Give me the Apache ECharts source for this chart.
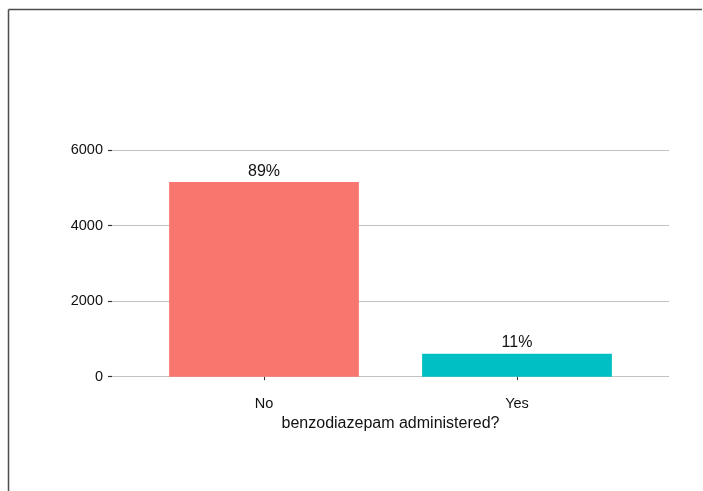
<!DOCTYPE html>
<html>
<head>
<meta charset="utf-8">
<script src="https://cdn.jsdelivr.net/npm/echarts@6/dist/echarts.min.js"></script>
<style>
html,body{margin:0;padding:0;background:#fff;}
#chart{width:703px;height:491px;}
</style>
</head>
<body>
<div id="chart"></div>
<script>
var categories = ['No', 'Yes'];
var counts = [5150, 610];
var pctLabels = ['89%', '11%'];
var barColors = ['#F8766D', '#00BFC4'];
var yTicks = [0, 2000, 4000, 6000];
var xTitle = 'benzodiazepam administered?';

var FONT = '"Liberation Sans", Arial, sans-serif';
var chart = echarts.init(document.getElementById('chart'), null, {renderer: 'canvas'});

var option = {
  animation: false,
  backgroundColor: '#ffffff',
  textStyle: {fontFamily: FONT},
  graphic: [
    {type: 'line', shape: {x1: 8.5, y1: 9.5, x2: 702, y2: 9.5}, style: {stroke: '#4d4d4d', lineWidth: 1.5}},
    {type: 'line', shape: {x1: 8.5, y1: 9.5, x2: 8.5, y2: 491}, style: {stroke: '#4d4d4d', lineWidth: 1.5}}
  ],
  grid: [
    {left: 112, right: 34, top: 150, bottom: 114.3},
    {left: 137.5, right: 59.5, top: 150, bottom: 114.3}
  ],
  xAxis: [
    {gridIndex: 0, type: 'category', data: categories, show: false},
    {
      gridIndex: 1, type: 'category', data: categories,
      offset: 12.3,
      axisLine: {show: false},
      axisTick: {show: true, alignWithLabel: true, length: 3.5, lineStyle: {color: '#333', width: 1}},
      axisLabel: {margin: 7, color: '#111', fontSize: 14.5, fontFamily: FONT},
      splitLine: {show: false},
      name: xTitle, nameLocation: 'middle', nameGap: 27,
      nameTextStyle: {color: '#111', fontSize: 16, fontFamily: FONT}
    }
  ],
  yAxis: [
    {
      gridIndex: 0, type: 'value', min: yTicks[0], max: yTicks[yTicks.length - 1], interval: 2000,
      axisLine: {show: false},
      axisTick: {show: true, length: 4, lineStyle: {color: '#333', width: 1.2}},
      axisLabel: {margin: 9, color: '#111', fontSize: 14.5, fontFamily: FONT,
        formatter: function (v) { return String(v); }},
      splitLine: {show: true, lineStyle: {color: '#c2c2c2', width: 1.2}}
    },
    {
      gridIndex: 1, type: 'value', min: yTicks[0], max: yTicks[yTicks.length - 1], interval: 2000,
      show: false, splitLine: {show: false}
    }
  ],
  series: [
    {
      type: 'bar', xAxisIndex: 1, yAxisIndex: 1,
      barWidth: '75%',
      data: counts.map(function (v, i) {
        return {value: v, itemStyle: {color: barColors[i]}};
      }),
      label: {
        show: true, position: 'top', distance: 3,
        color: '#111', fontSize: 16, fontFamily: FONT,
        formatter: function (p) { return pctLabels[p.dataIndex]; }
      }
    }
  ]
};
chart.setOption(option);
</script>
</body>
</html>
